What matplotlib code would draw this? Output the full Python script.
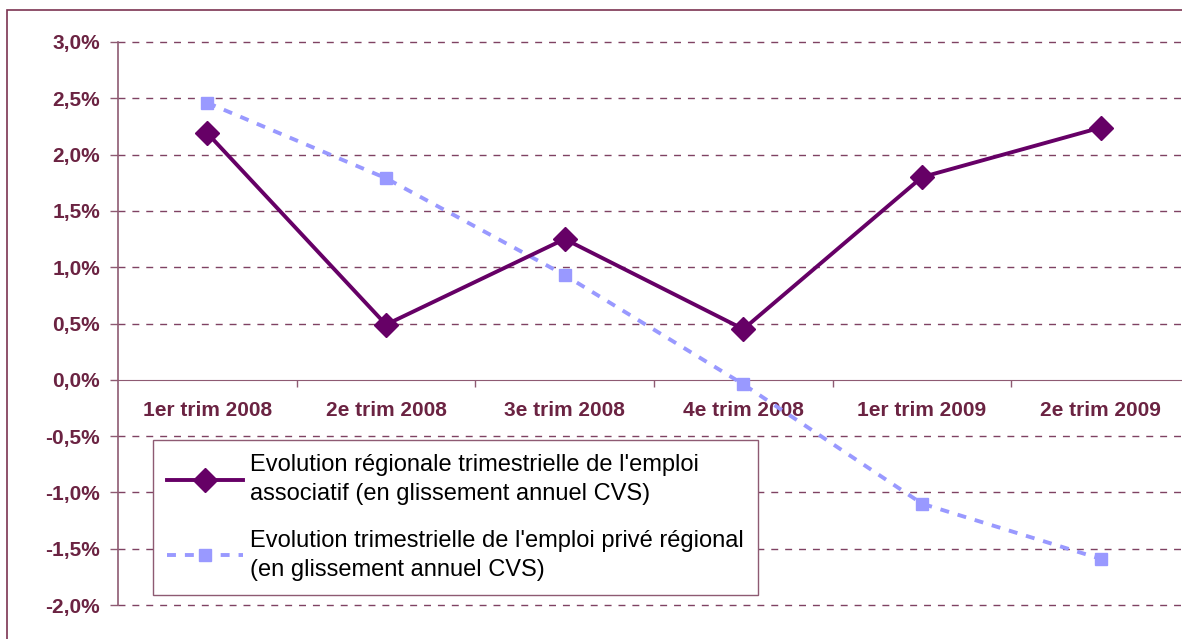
import matplotlib
matplotlib.use("Agg")
import matplotlib.pyplot as plt
from matplotlib.patches import Rectangle
from matplotlib.ticker import FixedLocator, FuncFormatter

# Data (percent)
quarters = ["1er trim 2008", "2e trim 2008", "3e trim 2008",
            "4e trim 2008", "1er trim 2009", "2e trim 2009"]
emploi_associatif = [2.19, 0.49, 1.25, 0.45, 1.80, 2.24]
emploi_prive = [2.46, 1.79, 0.93, -0.04, -1.10, -1.59]
label_associatif = "Evolution régionale trimestrielle de l'emploi\nassociatif (en glissement annuel CVS)"
label_prive = "Evolution trimestrielle de l'emploi privé régional\n(en glissement annuel CVS)"

maroon = "#6B2342"
grid_col = "#7F4262"
axis_col = "#8E5A72"

plt.rcParams["font.family"] = ["Liberation Sans", "DejaVu Sans"]

fig = plt.figure(figsize=(11.82, 6.39), dpi=100)
ax = fig.add_axes([118 / 1182, 1 - 605 / 639, 1072 / 1182, 563 / 639])

# spines first: moving a spine resets the ticks
for s in ["top", "right"]:
    ax.spines[s].set_visible(False)
ax.spines["bottom"].set_position(("data", 0))
ax.spines["bottom"].set_color(axis_col)
ax.spines["left"].set_color(axis_col)
ax.spines["left"].set_linewidth(1.2)

x = list(range(len(quarters)))
ax.plot(x, emploi_associatif, color="#660066", lw=2.8, marker="D", ms=12,
        label=label_associatif, zorder=4, clip_on=False)
ax.plot(x, emploi_prive, color="#9999FF", lw=2.8, ls=(0, (2.3, 2.3)), marker="s",
        ms=8.5, label=label_prive, zorder=3, clip_on=False)

ax.set_xlim(-0.5, 5.5)
ax.set_ylim(-2.0, 3.0)

# horizontal dashed gridlines (except at zero, which is the axis)
yticks = [-2.0, -1.5, -1.0, -0.5, 0.0, 0.5, 1.0, 1.5, 2.0, 2.5, 3.0]
for v in yticks:
    if v != 0:
        ax.axhline(v, color=grid_col, lw=1, ls=(0, (5, 5)), zorder=1, clip_on=False)

ax.yaxis.set_major_locator(FixedLocator(yticks))
ax.yaxis.set_major_formatter(FuncFormatter(lambda v, p: ("%.1f%%" % v).replace(".", ",")))
ax.tick_params(axis="y", direction="out", length=6, width=1, color=axis_col,
               pad=7, labelsize=15, labelcolor=maroon)

ax.set_xticks(x)
ax.set_xticks([i + 0.5 for i in range(0, 6)], minor=True)
ax.set_xticklabels(quarters, fontweight="bold")
ax.tick_params(axis="x", which="major", length=0, pad=15, labelsize=15, labelcolor=maroon)
ax.tick_params(axis="x", which="minor", direction="out", length=5, width=1, color=axis_col)
for lab in ax.get_yticklabels():
    lab.set_fontweight("bold")

leg = ax.legend(loc="upper left", bbox_to_anchor=((153 - 118) / 1072, (605 - 440) / 563),
                borderaxespad=0, fancybox=False, edgecolor=axis_col, framealpha=1,
                fontsize=17, handlelength=3.2, handletextpad=0.3, labelspacing=1.05,
                borderpad=0.6)
leg.get_frame().set_linewidth(1)
for t in leg.get_texts():
    t.set_linespacing(1.4)

# outer chart border (only top and left are inside the image)
fig.patches.append(Rectangle((7 / 1182, -0.2), 1.3, 1.2 - 10 / 639, transform=fig.transFigure,
                             fill=False, edgecolor="#7B3352", lw=1.2))

fig.savefig("out.png", dpi=100)
